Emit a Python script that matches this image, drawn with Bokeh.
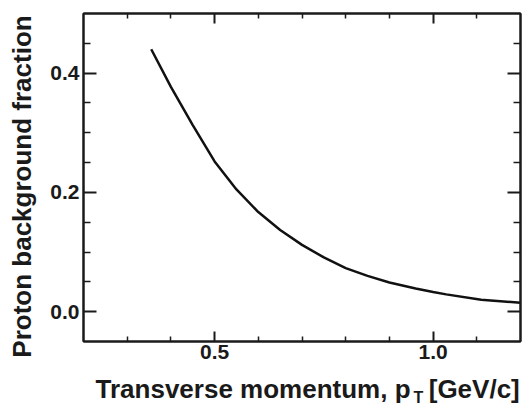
import math
from bokeh.plotting import figure
from bokeh.models import Range1d, FixedTicker, LinearAxis, Label, CustomJSTickFormatter
from bokeh.embed import file_html
from bokeh.resources import INLINE

# data
pt = [0.355, 0.40, 0.45, 0.50, 0.55, 0.60, 0.65, 0.70, 0.75, 0.80, 0.85, 0.90,
      0.96, 1.00, 1.03, 1.11, 1.20]
frac = [0.440, 0.377, 0.313, 0.252, 0.205, 0.167, 0.137, 0.112, 0.091, 0.073,
        0.060, 0.049, 0.039, 0.033, 0.029, 0.020, 0.015]

x_major = [0.5, 1.0]
x_minor = [0.3, 0.4, 0.6, 0.7, 0.8, 0.9, 1.1]
x_tick_labels = ["0.5", "1.0"]
y_major = [0.0, 0.2, 0.4]
y_minor = [0.05, 0.1, 0.15, 0.25, 0.3, 0.35, 0.45]
y_tick_labels = ["0.0", "0.2", "0.4"]
x_label = "Transverse momentum, p"
x_sub = "T"
x_unit = "[GeV/c]"
y_label = "Proton background fraction"

FONT = "Liberation Sans"
INK = "#1a1a1a"

p = figure(width=523, height=407, x_range=Range1d(0.2, 1.2), y_range=Range1d(-0.05, 0.5),
           x_axis_type=None, y_axis_type=None,
           output_backend="svg", toolbar_location=None,
           min_border_left=83, min_border_right=3, min_border_top=13, min_border_bottom=66)
p.outline_line_color = INK
p.outline_line_width = 2
p.background_fill_color = "white"
p.border_fill_color = "white"


def style(ax, major, minor, tin, tmin, labels=None):
    ax.ticker = FixedTicker(ticks=major, minor_ticks=minor)
    ax.axis_line_color = INK
    ax.axis_line_width = 2
    ax.major_tick_in = tin
    ax.major_tick_out = 0
    ax.minor_tick_in = tmin
    ax.minor_tick_out = 0
    ax.major_tick_line_color = INK
    ax.minor_tick_line_color = INK
    ax.major_tick_line_width = 2
    ax.minor_tick_line_width = 1.5
    if labels is None:
        ax.formatter = CustomJSTickFormatter(code="return ''")
        ax.major_label_standoff = 0
        ax.major_label_text_font_size = "1px"
    else:
        ax.major_label_overrides = {t: l for t, l in zip(major, labels)}
        ax.major_label_text_font = FONT
        ax.major_label_text_font_style = "bold"
        ax.major_label_text_font_size = "21px"
        ax.major_label_text_color = INK
        ax.major_label_standoff = 4


bx = LinearAxis()
style(bx, x_major, x_minor, 10, 5, x_tick_labels)
bx.major_label_standoff = 3
p.add_layout(bx, "below")
tx = LinearAxis()
style(tx, x_major, x_minor, 10, 5)
p.add_layout(tx, "above")
ly = LinearAxis()
style(ly, y_major, y_minor, 13, 7, y_tick_labels)
p.add_layout(ly, "left")
ry = LinearAxis()
style(ry, y_major, y_minor, 13, 7)
p.add_layout(ry, "right")

p.line(pt, frac, line_width=2.5, line_color="#111111")

# Labels live in side panels (not clipped to the frame); positions use the data scales
lab_kw = dict(text_font=FONT, text_font_style="bold", text_color=INK,
              text_baseline="middle")
p.add_layout(Label(x=0.0604, y=0.2099, text=y_label, angle=math.pi / 2,
                   text_align="center", text_font_size="26px", **lab_kw), "left")
p.add_layout(Label(x=0.2275, y=-0.1296, text=x_label + "\u2002\u2009" + x_unit,
                   text_align="left", text_font_size="26px", **lab_kw), "below")
p.add_layout(Label(x=0.9551, y=-0.1447, text=x_sub, text_align="left",
                   text_font_size="16px", **lab_kw), "left")

open("out.html", "w").write(file_html(p, INLINE))
